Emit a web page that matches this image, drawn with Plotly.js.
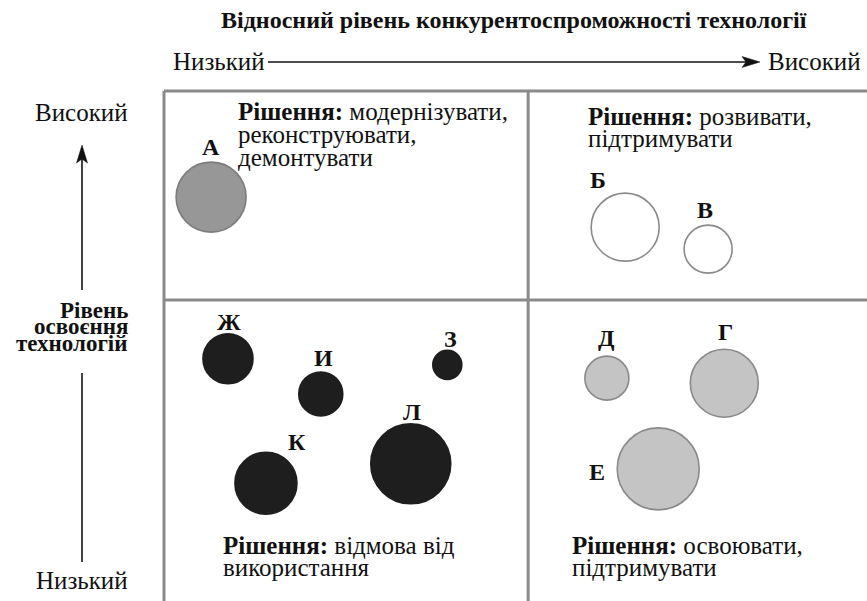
<!DOCTYPE html>
<html>
<head>
<meta charset="utf-8">
<script src="https://cdn.plot.ly/plotly-3.0.1.min.js"></script>
<style>
	html, body { margin: 0; padding: 0; background: white; }
	#chart .annotation text { font-family: 'Liberation Serif', 'Times New Roman', serif !important; }
</style>
</head>
<body>
<div id="chart"></div>
<script>
// technologies: relative competitiveness (x), level of mastering (y), bubble diameter
const TECH_LABELS     = [ 'А', 'Б', 'В', 'Ж', 'И', 'З', 'К', 'Л', 'Д', 'Г', 'Е' ];
const COMPETITIVENESS = [ 6.7, 65.6, 77.4, 9.1, 22.3, 40.3, 14.5, 35.1, 63.0, 79.7, 70.3 ];
const MASTERY         = [ 79.2, 73.3, 69.0, 47.5, 40.6, 46.3, 23.1, 26.9, 43.7, 42.7, 25.9 ];
const BUBBLE_SIZE     = [ 70, 68, 48, 50, 44, 29, 62, 80, 44, 68, 82 ];

const X_SPLIT = 51.8;
const Y_SPLIT = 59.0;

const TITLE        = 'Відносний рівень конкурентоспроможності технології';
const X_LOW        = 'Низький';
const X_HIGH       = 'Високий';
const Y_LOW        = 'Низький';
const Y_HIGH       = 'Високий';
const Y_NAME_LINES = [ 'Рівень', 'освоєння', 'технологій' ];

const DECISION_TL = [ '<b>Рішення:</b> модернізувати,', 'реконструювати,', 'демонтувати' ];
const DECISION_TR = [ '<b>Рішення:</b> розвивати,', 'підтримувати' ];
const DECISION_BL = [ '<b>Рішення:</b> відмова від', 'використання' ];
const DECISION_BR = [ '<b>Рішення:</b> освоювати,', 'підтримувати' ];

// layout (pixels)
const PLOT       = { l: 164, t: 91, w: 703, h: 510 };
const SERIF      = 'Liberation Serif';
const TEXT_COLOR = '#111111';
const GRID_COLOR = '#8a8a8a';
const LINE_STEP  = 22.5;

// label offset from bubble centre, px (right, up)
const LABEL_SHIFT = {
	'А': [ 0, 50 ], 'Б': [ -27, 47 ], 'В': [ -3, 39 ], 'Ж': [ 1, 37 ], 'И': [ 3, 36 ],
	'З': [ 3, 26 ], 'К': [ 31, 41 ], 'Л': [ 1, 52 ], 'Д': [ 0, 40 ], 'Г': [ 1, 51 ],
	'Е': [ -61, -3 ]
};

const QUAD_STYLE = {
	tl: { fill: '#979797', line: '#7c7c7c' },
	tr: { fill: '#ffffff', line: '#8a8a8a' },
	bl: { fill: '#1e1e1e', line: '#1e1e1e' },
	br: { fill: '#c4c4c4', line: '#8a8a8a' }
};

function paper_x( px ) { return ( px - PLOT.l ) / PLOT.w; }
function paper_y( py ) { return ( PLOT.t + PLOT.h - py ) / PLOT.h; }

function quadrant( x, y ) {
	return ( y >= Y_SPLIT ? 't' : 'b' ) + ( x >= X_SPLIT ? 'r' : 'l' );
}

function text_note( txt, px, py, size, anchor, bold ) {
	return {
		text     : bold ? '<b>' + txt + '</b>' : txt,
		xref     : 'paper', yref: 'paper',
		x        : paper_x( px ), y: paper_y( py ),
		xanchor  : anchor, yanchor: 'middle',
		showarrow: false,
		font     : { family: SERIF, size: size, color: TEXT_COLOR }
	};
}

function block_notes( lines, px, py ) {
	return lines.map( ( s, i ) => text_note( s, px, py + i * LINE_STEP, 25, 'left', false ) );
}

function line_shape( x0, y0, x1, y1, color, width ) {
	return {
		type: 'line', xref: 'paper', yref: 'paper',
		x0: paper_x( x0 ), y0: paper_y( y0 ), x1: paper_x( x1 ), y1: paper_y( y1 ),
		line: { color: color, width: width }
	};
}

function arrow_head( pts ) {
	let d = pts.map( ( p, i ) => ( i ? 'L' : 'M' ) + paper_x( p[ 0 ] ) + ',' + paper_y( p[ 1 ] ) ).join( ' ' ) + ' Z';
	return {
		type: 'path', xref: 'paper', yref: 'paper', path: d,
		fillcolor: TEXT_COLOR, line: { color: TEXT_COLOR, width: 0.5 }
	};
}

const quads = TECH_LABELS.map( ( _, i ) => quadrant( COMPETITIVENESS[ i ], MASTERY[ i ] ) );

const bubbles = {
	x        : COMPETITIVENESS,
	y        : MASTERY,
	type     : 'scatter',
	mode     : 'markers',
	hoverinfo: 'none',
	marker   : {
		size    : BUBBLE_SIZE,
		sizemode: 'diameter',
		sizeref : 1,
		opacity : 1,
		color   : quads.map( q => QUAD_STYLE[ q ].fill ),
		line    : { color: quads.map( q => QUAD_STYLE[ q ].line ), width: 1.6 }
	}
};

let annotations = [];
TECH_LABELS.forEach( ( lab, i ) => {
	annotations.push( {
		text     : '<b>' + lab + '</b>',
		x        : COMPETITIVENESS[ i ], y: MASTERY[ i ],
		xref     : 'x', yref: 'y',
		xshift   : LABEL_SHIFT[ lab ][ 0 ], yshift: LABEL_SHIFT[ lab ][ 1 ],
		showarrow: false,
		font     : { family: SERIF, size: 24, color: TEXT_COLOR }
	} );
} );

annotations.push( text_note( TITLE, 514, 20, 24, 'center', true ) );
annotations.push( text_note( X_LOW, 267, 62, 25, 'right', false ) );
annotations.push( text_note( X_HIGH, 766, 62, 25, 'left', false ) );
annotations.push( text_note( Y_HIGH, 130, 113, 25, 'right', false ) );
annotations.push( text_note( Y_LOW, 130, 580, 25, 'right', false ) );
Y_NAME_LINES.forEach( ( s, i ) => annotations.push( text_note( s, 130, 310 + i * 16.8, 23, 'right', true ) ) );

annotations = annotations.concat(
	block_notes( DECISION_TL, 236, 112 ),
	block_notes( DECISION_TR, 586, 116 ),
	block_notes( DECISION_BL, 221, 545 ),
	block_notes( DECISION_BR, 570, 545 )
);

const shapes = [
	// quadrant frame
	line_shape( PLOT.l, PLOT.t, PLOT.l + PLOT.w, PLOT.t, GRID_COLOR, 3 ),
	line_shape( PLOT.l, PLOT.t, PLOT.l, PLOT.t + PLOT.h, GRID_COLOR, 3 ),
	{ type: 'line', xref: 'x', yref: 'paper', x0: X_SPLIT, x1: X_SPLIT, y0: 0, y1: 1,
	  line: { color: GRID_COLOR, width: 3 } },
	{ type: 'line', xref: 'paper', yref: 'y', x0: 0, x1: 1, y0: Y_SPLIT, y1: Y_SPLIT,
	  line: { color: GRID_COLOR, width: 3 } },
	// axis arrows
	line_shape( 268, 62, 748, 62, TEXT_COLOR, 1.6 ),
	arrow_head( [ [ 760, 62 ], [ 742, 56.5 ], [ 746, 62 ], [ 742, 67.5 ] ] ),
	line_shape( 82, 290, 82, 158, TEXT_COLOR, 1.6 ),
	arrow_head( [ [ 82, 145 ], [ 76.5, 163 ], [ 82, 159 ], [ 87.5, 163 ] ] ),
	line_shape( 82, 373, 82, 562, TEXT_COLOR, 1.6 )
];

const layout = {
	width        : 867,
	height       : 601,
	showlegend   : false,
	paper_bgcolor: 'white',
	plot_bgcolor : 'white',
	font         : { family: SERIF },
	margin       : { l: PLOT.l, r: 867 - PLOT.l - PLOT.w, t: PLOT.t, b: 601 - PLOT.t - PLOT.h, pad: 0 },
	xaxis        : { range: [ 0, 100 ], visible: false, fixedrange: true },
	yaxis        : { range: [ 0, 100 ], visible: false, fixedrange: true },
	annotations  : annotations,
	shapes       : shapes
};

Plotly.newPlot( 'chart', [ bubbles ], layout, { displayModeBar: false } );
</script>
</body>
</html>
